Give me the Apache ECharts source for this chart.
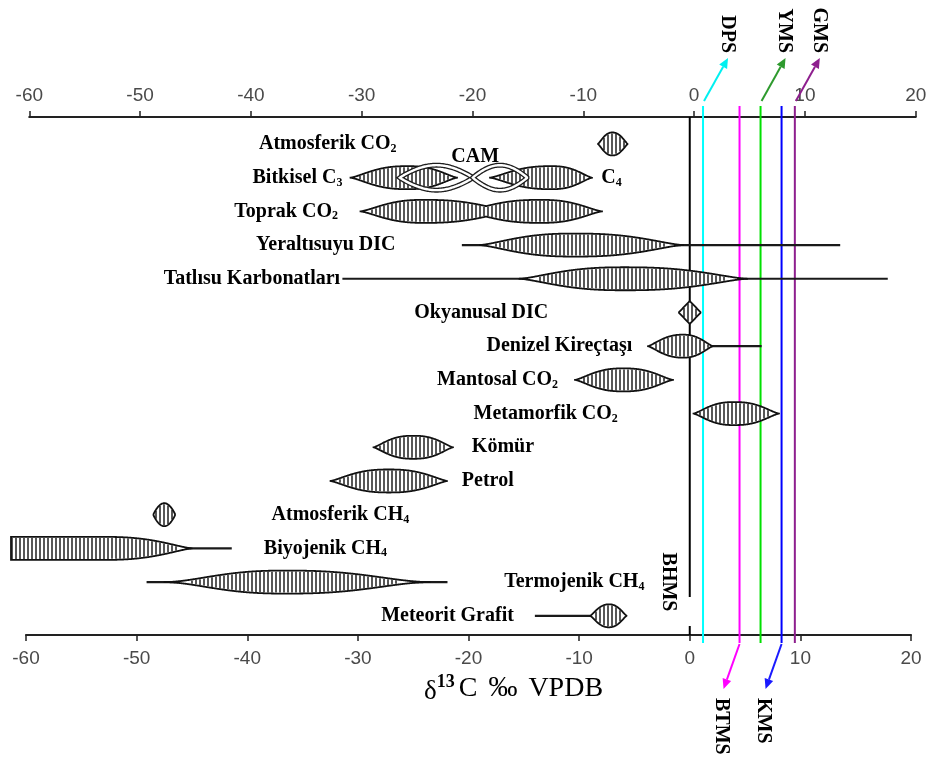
<!DOCTYPE html>
<html>
<head>
<meta charset="utf-8">
<script src="https://cdn.jsdelivr.net/npm/echarts@6/dist/echarts.min.js"></script>
<style>
  html, body { margin: 0; padding: 0; background: #fff; }
  #chart { width: 928px; height: 760px; }
</style>
</head>
<body>
<div id="chart"></div>
<script>
// δ13C (‰ VPDB) ranges of carbon reservoirs; "_n" marks a subscript digit
const sources = ['Atmosferik CO_2', 'Bitkisel C_3', 'Toprak CO_2', 'Yeraltısuyu DIC', 'Tatlısu Karbonatları',
  'Okyanusal DIC', 'Denizel Kireçtaşı', 'Mantosal CO_2', 'Metamorfik CO_2', 'Kömür', 'Petrol',
  'Atmosferik CH_4', 'Biyojenik CH_4', 'Termojenik CH_4', 'Meteorit Grafit'];

// spindles: main spread of each reservoir (row = index in sources)
const spindleRow  = [0, 1, 1, 2, 2, 3, 4, 5, 6, 7, 8, 9, 10, 11, 12, 13, 14];
const spindleMin  = [-8.3, -30.7, -18.1, -29.8, -20.5, -19.0, -15.4, -1.0, -3.8, -10.4, 0.3, -28.6, -32.5, -48.5, -61.4, -47.5, -9.0];
const spindleMode = [-7.0, -25.5, -12.5, -24.0, -13.5, -10.4, -5.9, 0.0, -0.6, -6.0, 4.0, -25.0, -27.2, -47.5, -53.0, -36.5, -7.3];
const spindleMax  = [-5.6, -21.0, -8.8, -16.0, -7.9, -0.6, 5.2, 1.0, 2.1, -1.5, 8.1, -21.4, -21.9, -46.5, -45.0, -23.5, -5.7];

// thin lines: full observed range
const rangeRow = [3, 4, 6, 12, 13, 14];
const rangeMin = [-20.6, -31.4, -0.5, -50.0, -49.1, -14.0];
const rangeMax = [13.6, 17.9, 6.5, -41.4, -21.9, -7.0];

// CAM plants span between C3 and C4: start, crossing, end
const camRow = 1;
const camRange = [-26.2, -19.6, -14.7];
const c4Text = 'C_4';
const c4At = -8.0;
const camAt = -19.4;

// reference lines
const markerNames  = ['BHMS', 'DPS', 'BTMS', 'YMS', 'KMS', 'GMS'];
const markerValues = [0, 1.2, 4.5, 6.4, 8.3, 9.5];

// x axis
const xMin = -60, xMax = 20, xStep = 10;
const axisTitle = '{d|δ}{sup|13}{t|C}{pm|‰}{t|VPDB}';

// ---- layout & look ----
const labelAt    = [-26.5, -31.4, -31.8, -26.6, -31.6, -12.8, -5.2, -11.9, -6.5, -19.7, -20.6, -37.8, -38.5, -4.1, -15.9];
const labelAlign = ['right', 'right', 'right', 'right', 'right', 'right', 'right', 'right', 'right', 'left', 'left', 'left', 'left', 'right', 'right'];
// profile f(u) = (1 - (1-u)^bulge)^taper, u = 0 at a tip, 1 at the mode
const spindleBulge = [2.2, 2.5, 2.5, 2.5, 2.5, 2.5, 2.5, 1.0, 2.3, 2.5, 2.5, 2.5, 2.5, 2.0, 2.5, 2.5, 2.2];
const spindleTaper = [1.3, 1.5, 1.5, 1.5, 1.5, 1.5, 1.5, 1.0, 1.4, 1.5, 1.5, 1.4, 1.4, 1.0, 1.4, 2.0, 1.3];
const flatLeft = [14];
const markerSide   = ['none', 'up', 'down', 'up', 'down', 'up'];
const markerColor  = ['#000000', '#00ffff', '#ff00ff', '#00e000', '#0000ff', '#8e1f8e'];
const arrowColor   = ['#000000', '#00f0f0', '#ff00ff', '#2e9a2e', '#1a1aff', '#8e1f8e'];
const HALF = 11.5;
const SERIF = 'Liberation Serif';

const labelRich = {
  s: { fontFamily: SERIF, fontWeight: 'bold', fontSize: 12, fill: '#000', padding: [10, 0, 0, 0] }
};
const toRich = t => t.replace(/_(\d)/g, '{s|$1}');

function textEl(x, y, text, align, extra) {
  return Object.assign({
    type: 'text', x: x, y: y,
    style: {
      text: toRich(text), align: align, verticalAlign: 'middle',
      fontFamily: SERIF, fontWeight: 'bold', fontSize: 20, fill: '#000', rich: labelRich
    }
  }, extra || {});
}

function renderRow(params, api) {
  const row = api.value(1);
  const cy = api.coord([0, row])[1];
  const px = v => api.coord([v, row])[0];
  const children = [];

  rangeRow.forEach((r, k) => {
    if (r !== row) return;
    children.push({ type: 'line', shape: { x1: px(rangeMin[k]), y1: cy, x2: px(rangeMax[k]), y2: cy },
      style: { stroke: '#1a1a1a', lineWidth: 2.2 } });
  });

  const sp = [];
  spindleRow.forEach((r, k) => {
    if (r !== row) return;
    sp.push({ a: px(spindleMin[k]), m: px(spindleMode[k]), b: px(spindleMax[k]),
      k: spindleBulge[k], q: spindleTaper[k], flat: flatLeft.includes(k) });
  });
  if (sp.length) {
    const shape = (s, u) => Math.pow(1 - Math.pow(1 - Math.min(Math.max(u, 0), 1), s.k), s.q);
    const hAt = x => {
      let h = 0;
      for (const s of sp) {
        if (x < s.a || x > s.b) continue;
        let f;
        if (x <= s.m) f = s.flat ? 1 : shape(s, (x - s.a) / Math.max(s.m - s.a, 1e-6));
        else f = shape(s, (s.b - x) / Math.max(s.b - s.m, 1e-6));
        h = Math.max(h, f);
      }
      return h * HALF;
    };
    const x0 = Math.floor(Math.min(...sp.map(s => s.a)));
    const x1 = Math.ceil(Math.max(...sp.map(s => s.b)));
    const runs = [];
    let run = null;
    for (let x = x0; x <= x1; x += 0.5) {
      const inside = sp.some(s => x >= s.a && x <= s.b);
      if (inside) { if (!run) { run = []; runs.push(run); } run.push([x, hAt(x)]); }
      else run = null;
    }
    runs.forEach(rn => {
      const top = rn.map(([x, h]) => [x, cy - h]);
      const bot = rn.map(([x, h]) => [x, cy + h]).reverse();
      const pts = top.concat(bot);
      children.push({ type: 'polygon', shape: { points: pts }, style: { fill: '#ffffff' } });
      rn.forEach(([x, h]) => {
        if (x % 4 === 0 && h > 2.5) {
          children.push({ type: 'line', shape: { x1: x, y1: cy - h + 1, x2: x, y2: cy + h - 1 },
            style: { stroke: '#1f1f1f', lineWidth: 1.5 } });
        }
      });
      children.push({ type: 'polygon', shape: { points: pts },
        style: { fill: 'none', stroke: '#111', lineWidth: 1.8 } });
    });
  }

  if (row === camRow) {
    const a = px(camRange[0]), w = px(camRange[1]), b = px(camRange[2]);
    const hc = 12.5;
    const lobe = (l, r) => {
      const t = [], btm = [];
      for (let x = l; x <= r; x += 1) {
        const h = hc * Math.pow(Math.sin(Math.PI * (x - l) / (r - l)), 0.9);
        t.push([x, cy - h]); btm.push([x, cy + h]);
      }
      return t.concat(btm.reverse());
    };
    [lobe(a, w), lobe(w, b)].forEach(pts => {
      children.push({ type: 'polygon', shape: { points: pts }, style: { fill: 'none', stroke: '#1e1e1e', lineWidth: 5 } });
      children.push({ type: 'polygon', shape: { points: pts }, style: { fill: 'none', stroke: '#ffffff', lineWidth: 2.4 } });
    });
    children.push(textEl(px(c4At), cy, c4Text, 'left'));
    children.push(textEl(px(camAt), cy - 21, 'CAM', 'center'));
  }

  children.push(textEl(px(labelAt[row]), cy, sources[row], labelAlign[row]));
  return { type: 'group', children: children };
}

function arrow(x1, y1, x2, y2, color) {
  const ang = Math.atan2(y2 - y1, x2 - x1);
  const L = 10, W = 4.5;
  const bx = x2 - L * Math.cos(ang), by = y2 - L * Math.sin(ang);
  const nx = -Math.sin(ang), ny = Math.cos(ang);
  return [
    { type: 'line', shape: { x1: x1, y1: y1, x2: bx, y2: by }, style: { stroke: color, lineWidth: 2 } },
    { type: 'polygon', shape: { points: [[x2, y2], [bx + nx * W, by + ny * W], [bx - nx * W, by - ny * W]] },
      style: { fill: color } }
  ];
}

function renderMarker(params, api) {
  const i = params.dataIndex;
  const x = api.coord([api.value(0), 0])[0];
  const cs = params.coordSys;
  const top = cs.y, bottom = cs.y + cs.height;
  const side = markerSide[i];
  const children = [];
  const rot = -Math.PI / 2;
  if (side === 'none') {
    children.push({ type: 'line', shape: { x1: x, y1: top, x2: x, y2: bottom - 38 }, style: { stroke: markerColor[i], lineWidth: 2 } });
    children.push({ type: 'line', shape: { x1: x, y1: bottom - 9, x2: x, y2: bottom }, style: { stroke: markerColor[i], lineWidth: 2 } });
    children.push(textEl(x - 22, bottom - 53, markerNames[i], 'center', { rotation: rot }));
  } else {
    children.push({ type: 'line', shape: { x1: x, y1: top - 11, x2: x, y2: bottom + 8 }, style: { stroke: markerColor[i], lineWidth: 2 } });
    if (side === 'up') {
      const ex = x + 25, ey = top - 59;
      children.push(...arrow(x + 1, top - 16, ex, ey, arrowColor[i]));
      children.push(textEl(ex - 1, ey - 5, markerNames[i], 'right', { rotation: rot }));
    } else {
      const ex = x - 16, ey = bottom + 54;
      children.push(...arrow(x, bottom + 9, ex, ey, arrowColor[i]));
      children.push(textEl(ex - 2, ey + 9, markerNames[i], 'left', { rotation: rot }));
    }
  }
  return { type: 'group', children: children };
}

const axisCommon = {
  type: 'value', min: xMin, max: xMax, interval: xStep,
  splitLine: { show: false },
  axisLine: { show: true, onZero: false, lineStyle: { color: '#222', width: 2.2 } },
  axisTick: { show: true, inside: false, length: 6, lineStyle: { color: '#222', width: 1.5 } },
  axisLabel: { color: '#4a4a4a', fontFamily: 'Liberation Sans', fontSize: 19, margin: 12 }
};

const chart = echarts.init(document.getElementById('chart'), null, { renderer: 'canvas' });
chart.setOption({
  animation: false,
  backgroundColor: '#ffffff',
  grid: [
    { left: 26, right: 17, top: 117, bottom: 125, containLabel: false, outerBoundsMode: 'none' },
    { left: 29.3, right: 12.3, top: 117, bottom: 125, containLabel: false, outerBoundsMode: 'none' }
  ],
  xAxis: [
    Object.assign({}, axisCommon, { gridIndex: 0, position: 'bottom', axisLabel: Object.assign({}, axisCommon.axisLabel, { margin: 14 }) }),
    Object.assign({}, axisCommon, { gridIndex: 1, position: 'top' })
  ],
  yAxis: [
    { gridIndex: 0, type: 'value', min: -0.8, max: 14.57, inverse: true, show: false },
    { gridIndex: 1, type: 'value', min: -0.8, max: 14.57, inverse: true, show: false }
  ],
  graphic: [{
    type: 'text', left: 424, top: 673,
    style: {
      text: axisTitle,
      rich: {
        d: { fontFamily: SERIF, fontSize: 27, fill: '#000', padding: [7, 0, 0, 0] },
        sup: { fontFamily: SERIF, fontWeight: 'bold', fontSize: 18, fill: '#000', padding: [0, 4, 13, 0] },
        t: { fontFamily: SERIF, fontSize: 28, fill: '#000' },
        pm: { fontFamily: SERIF, fontSize: 29, fill: '#000', padding: [0, 11, 0, 11] }
      }
    }
  }],
  series: [
    {
      type: 'custom', name: 'markers', xAxisIndex: 0, yAxisIndex: 0,
      renderItem: renderMarker, clip: false, silent: true, z: 1,
      encode: { x: 0, y: 1 },
      data: markerValues.map(v => [v, 0])
    },
    {
      type: 'custom', name: 'reservoirs', xAxisIndex: 0, yAxisIndex: 0,
      renderItem: renderRow, clip: false, silent: true, z: 2,
      encode: { x: 0, y: 1 },
      data: sources.map((s, i) => [0, i])
    }
  ]
});
</script>
</body>
</html>
